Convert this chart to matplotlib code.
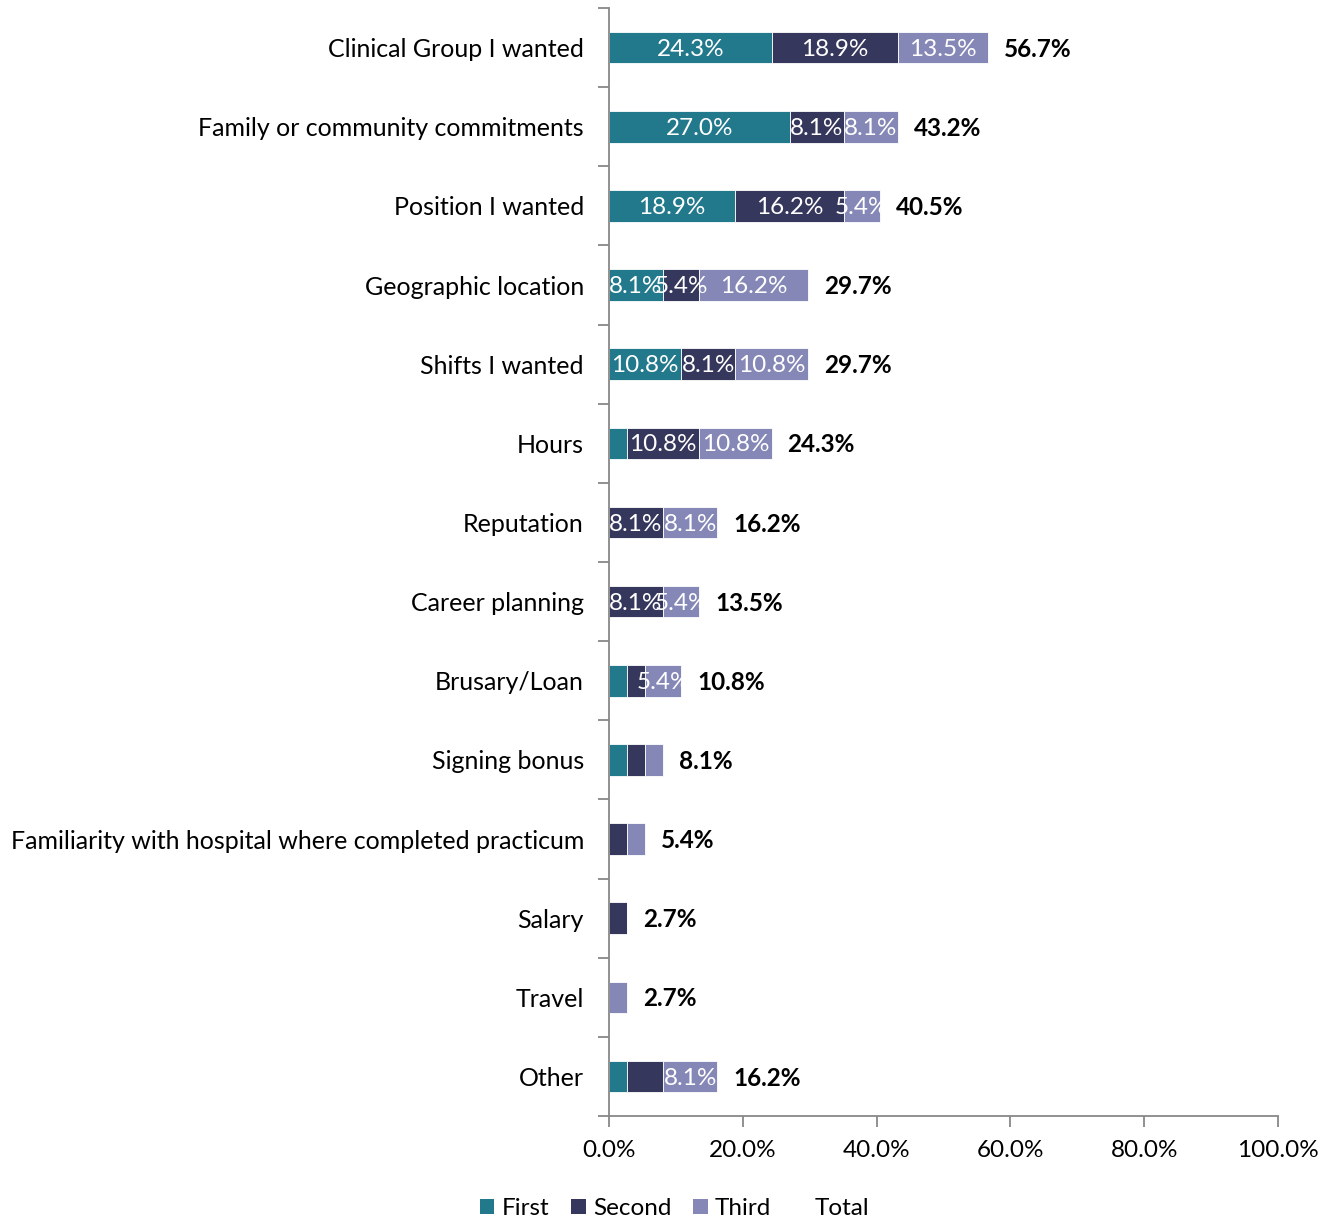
import matplotlib.pyplot as plt
from matplotlib.patches import Patch
import numpy as np

plt.rcParams['font.family'] = ['Lato', 'DejaVu Sans']

categories = [
    "Clinical Group I wanted",
    "Family or community commitments",
    "Position I wanted",
    "Geographic location",
    "Shifts I wanted",
    "Hours",
    "Reputation",
    "Career planning",
    "Brusary/Loan",
    "Signing bonus",
    "Familiarity with hospital where completed practicum",
    "Salary",
    "Travel",
    "Other",
]
first = [24.3, 27.0, 18.9, 8.1, 10.8, 2.7, 0.0, 0.0, 2.7, 2.7, 0.0, 0.0, 0.0, 2.7]
second = [18.9, 8.1, 16.2, 5.4, 8.1, 10.8, 8.1, 8.1, 2.7, 2.7, 2.7, 2.7, 0.0, 5.4]
third = [13.5, 8.1, 5.4, 16.2, 10.8, 10.8, 8.1, 5.4, 5.4, 2.7, 2.7, 0.0, 2.7, 8.1]
total = [56.7, 43.2, 40.5, 29.7, 29.7, 24.3, 16.2, 13.5, 10.8, 8.1, 5.4, 2.7, 2.7, 16.2]

# segments that carry a value label (small slices are left bare)
show_first = [1, 1, 1, 1, 1, 0, 0, 0, 0, 0, 0, 0, 0, 0]
show_second = [1, 1, 1, 1, 1, 1, 1, 1, 0, 0, 0, 0, 0, 0]
show_third = [1, 1, 1, 1, 1, 1, 1, 1, 1, 0, 0, 0, 0, 1]

series = [
    ("First", first, show_first, "#23798c"),
    ("Second", second, show_second, "#36375c"),
    ("Third", third, show_third, "#8587b6"),
]

FS = 17.5

fig = plt.figure(figsize=(13.36, 12.18), dpi=100)
ax = fig.add_axes([0.4558, 0.0837, 0.5008, 0.9097])

y = np.arange(len(categories))
left = np.zeros(len(categories))
for name, vals, show, color in series:
    vals = np.array(vals)
    ax.barh(y, vals, left=left, height=0.4, color=color,
            edgecolor='white', linewidth=0.6, label=name)
    for yi, (v, l, s) in enumerate(zip(vals, left, show)):
        if s and v > 0:
            ax.text(l + v / 2, yi + 0.02, f"{v:.1f}%", ha='center',
                    va='center', color='white', fontsize=FS)
    left = left + vals

for yi, t in enumerate(total):
    ax.text(t + 2.4, yi + 0.02, f"{t:.1f}%", ha='left', va='center',
            color='black', fontsize=FS, fontweight='bold')

ax.set_xlim(0, 100)
ax.set_ylim(len(categories) - 0.5, -0.5)
ax.set_xticks(np.arange(0, 101, 20))
ax.set_xticklabels([f"{v:.1f}%" for v in range(0, 101, 20)], fontsize=FS)
ax.set_yticks(y)
ax.set_yticklabels(categories, fontsize=18)
ax.set_yticks(np.arange(-0.5, len(categories), 1), minor=True)
ax.tick_params(axis='y', which='major', length=0, pad=18)
ax.tick_params(axis='y', which='minor', length=8, color='#888888', width=1.3)
ax.tick_params(axis='x', length=8, color='#888888', width=1.3, pad=9)

for side in ('top', 'right'):
    ax.spines[side].set_visible(False)
for side in ('left', 'bottom'):
    ax.spines[side].set_color('#888888')
    ax.spines[side].set_linewidth(1.3)

handles = [Patch(facecolor=c, edgecolor='none') for _, _, _, c in series]
handles.append(Patch(facecolor='none', edgecolor='none'))
fig.legend(handles, ["First", "Second", "Third", "Total"], loc='lower center',
           bbox_to_anchor=(0.505, -0.019), ncol=4, frameon=False, fontsize=FS,
           handlelength=0.6, handleheight=0.6, handletextpad=0.3,
           columnspacing=0.9)

fig.savefig("out.png", dpi=100)
